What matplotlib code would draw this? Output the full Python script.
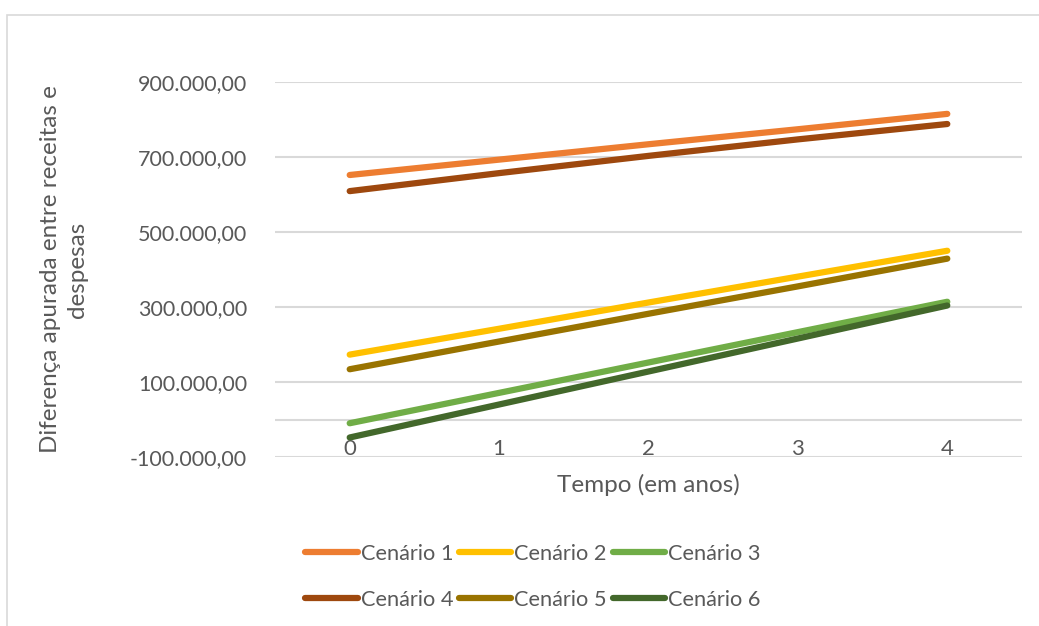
import matplotlib
matplotlib.use('Agg')
import matplotlib.pyplot as plt
from matplotlib.patches import Rectangle
from matplotlib.ticker import FuncFormatter

# Dados
anos = [0, 1, 2, 3, 4]
cenario_1 = [652000, 693000, 734000, 774000, 815000]
cenario_2 = [173000, 242000, 312000, 381000, 450000]
cenario_3 = [-10000, 71000, 152000, 233000, 314000]
cenario_4 = [609000, 657000, 703000, 747000, 788000]
cenario_5 = [134000, 208000, 282000, 355000, 429000]
cenario_6 = [-48000, 40000, 128000, 216000, 304000]
nomes = ['Cenário 1', 'Cenário 2', 'Cenário 3',
         'Cenário 4', 'Cenário 5', 'Cenário 6']
cores = ['#ED7D31', '#FFC000', '#70AD47', '#9E480E', '#997300', '#43682B']
y_ticks = [-100000, 100000, 300000, 500000, 700000, 900000]

plt.rcParams['font.family'] = ['Lato', 'DejaVu Sans']
TEXTO = '#595959'
GRADE = '#D9D9D9'


def formato_br(v, pos=None):
    """Formata número no padrão brasileiro: 900.000,00"""
    s = f"{v:,.2f}"
    return s.replace(',', 'X').replace('.', ',').replace('X', '.')


fig = plt.figure(figsize=(10.39, 6.26), dpi=100)
fig.patches.append(Rectangle((7 / 1039, -0.1), 1.2, 1 - 15 / 626 + 0.1,
                             transform=fig.transFigure, fill=False,
                             edgecolor=GRADE, linewidth=1.2))
ax = fig.add_axes([275 / 1039, 1 - 457 / 626, (1022 - 275) / 1039,
                   (457 - 82) / 626])

series = [cenario_1, cenario_2, cenario_3, cenario_4, cenario_5, cenario_6]
linhas = []
for valores, nome, cor in zip(series, nomes, cores):
    ln, = ax.plot(anos, valores, color=cor, linewidth=4.5,
                  solid_capstyle='round', label=nome, zorder=3)
    linhas.append(ln)

ax.set_xlim(-0.5, 4.5)
ax.set_ylim(-100000, 900000)
ax.set_yticks(y_ticks)
ax.yaxis.set_major_formatter(FuncFormatter(formato_br))
ax.set_xticks(anos)
ax.grid(axis='y', color=GRADE, linewidth=1.5)
ax.axhline(0, color=GRADE, linewidth=1.5, zorder=1)
for s in ax.spines.values():
    s.set_visible(False)
ax.tick_params(axis='y', length=0, pad=20, labelsize=15.5, labelcolor=TEXTO)
ax.tick_params(axis='x', length=0, pad=-13, labelsize=16, labelcolor=TEXTO)

ax.set_xlabel('Tempo (em anos)', fontsize=17.5, color=TEXTO)
ax.xaxis.set_label_coords(0.5, -0.075)
ax.xaxis.label.set_va('center')
ax.set_ylabel('Diferença apurada entre receitas e\ndespesas', fontsize=17.5,
              color=TEXTO, linespacing=1.3)
ax.yaxis.set_label_coords(-0.2825, 0.5)
ax.yaxis.label.set_va('center')

# Ordem para preencher as linhas da legenda: 1 2 3 / 4 5 6
ordem = [0, 3, 1, 4, 2, 5]
fig.legend([linhas[i] for i in ordem], [nomes[i] for i in ordem],
           loc='center', bbox_to_anchor=(533 / 1039, 1 - 577 / 626),
           ncol=3, frameon=False, fontsize=15.7, labelcolor=TEXTO,
           handlelength=2.4, handletextpad=0.15, columnspacing=0.25,
           labelspacing=1.2, borderaxespad=0, borderpad=0)

fig.savefig('out.png', dpi=100)
